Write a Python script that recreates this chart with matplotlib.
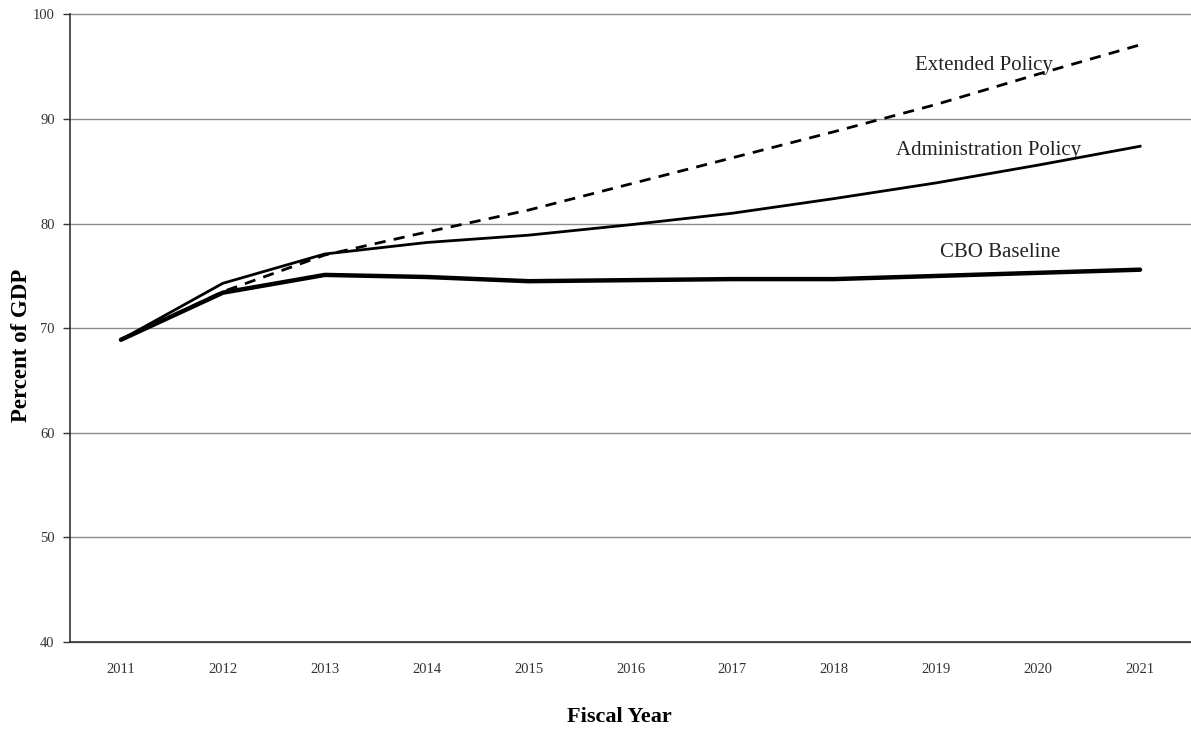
import matplotlib
matplotlib.use("Agg")
import matplotlib.pyplot as plt
import numpy as np

years = ["2011", "2012", "2013", "2014", "2015", "2016", "2017", "2018", "2019", "2020", "2021"]
extended_policy = [68.9, 73.5, 77.0, 79.2, 81.3, 83.8, 86.3, 88.8, 91.4, 94.3, 97.1]
administration_policy = [68.9, 74.3, 77.1, 78.2, 78.9, 79.9, 81.0, 82.4, 83.9, 85.6, 87.4]
cbo_baseline = [68.9, 73.4, 75.1, 74.9, 74.5, 74.6, 74.7, 74.7, 75.0, 75.3, 75.6]
y_ticks = [40, 50, 60, 70, 80, 90, 100]

serif = ["Liberation Serif", "DejaVu Serif"]

fig = plt.figure(figsize=(11.91, 7.31), dpi=100)
ax = fig.add_axes([70 / 1191, 1 - 642 / 731, 1121 / 1191, (642 - 14.5) / 731])

x = np.arange(len(years))
ax.plot(x, extended_policy, color="black", lw=2.0, ls=(0, (4, 3)), zorder=3)
ax.plot(x, administration_policy, color="black", lw=2.0, zorder=4)
ax.plot(x, cbo_baseline, color="black", lw=3.2, zorder=5, solid_capstyle="round")

ax.set_xlim(-0.5, len(years) - 0.5)
ax.set_ylim(40, 100)
ax.set_yticks(y_ticks)
ax.set_xticks(x)
ax.set_xticklabels(years)
ax.grid(axis="y", color="#8c8c8c", lw=1.0)
for gl in ax.get_ygridlines():
    gl.set_clip_on(False)
ax.set_axisbelow(True)

for s in ["top", "right"]:
    ax.spines[s].set_visible(False)
for s in ["left", "bottom"]:
    ax.spines[s].set_color("#333333")
    ax.spines[s].set_linewidth(1.2)

ax.tick_params(axis="y", direction="out", length=5, width=1, color="#333333",
               labelsize=10.5, labelcolor="#333333", pad=6)
ax.tick_params(axis="x", length=0, labelsize=10.5, labelcolor="#333333", pad=15)
for lab in ax.get_xticklabels() + ax.get_yticklabels():
    lab.set_family(serif)

ax.set_ylabel("Percent of GDP", fontsize=16.5, fontweight="bold", family=serif)
ax.yaxis.set_label_coords(-38 / 1121, (642 - 345.5) / 627.5)
ax.set_xlabel("Fiscal Year", fontsize=16, fontweight="bold", family=serif)
ax.xaxis.set_label_coords(0.49, -65 / 627.5)

ax.text(8.47, 95.1, "Extended Policy", fontsize=15, family=serif, ha="center", va="center", color="#222222")
ax.text(8.51, 87.0, "Administration Policy", fontsize=15, family=serif, ha="center", va="center", color="#222222")
ax.text(8.63, 77.2, "CBO Baseline", fontsize=15, family=serif, ha="center", va="center", color="#222222")

fig.savefig("out.png", dpi=100)
